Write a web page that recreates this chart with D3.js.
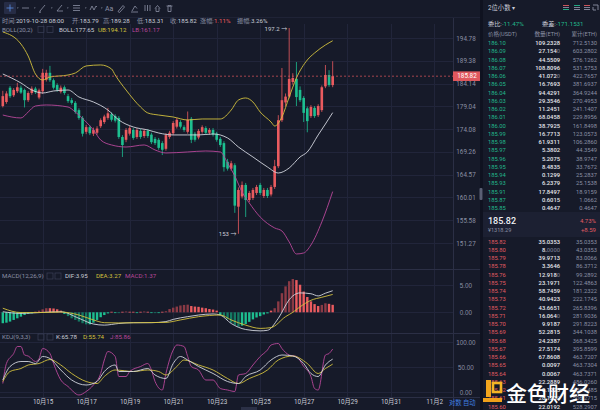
<!DOCTYPE html>
<html><head><meta charset="utf-8">
<script src="https://cdn.jsdelivr.net/npm/d3@7"></script>
<style>
html,body{margin:0;padding:0;background:#161a29;}
svg{display:block;font-family:Roboto,"Noto Sans CJK SC",sans-serif;}
</style></head><body>
<svg id="c" width="600" height="410"></svg>
<script>
// ---------- DATA ----------
const candleOpen = [179.1,180.0,183.2,181.5,182.4,183.2,182.7,180.4,182.0,183.0,
181.0,182.4,185.0,186.6,184.9,183.8,182.3,183.3,181.3,180.4,
179.8,178.2,176.5,173.5,174.5,173.1,173.3,174.7,175.6,176.5,
177.3,176.9,176.5,172.4,171.8,173.1,173.9,172.4,173.7,172.6,
173.7,172.9,172.0,171.8,171.1,169.9,172.4,173.2,174.6,175.6,
174.5,173.5,176.3,173.1,172.3,173.5,174.3,173.3,173.9,173.1,
172.0,171.1,167.2,165.8,166.5,158.2,160.2,162.5,159.5,159.9,
160.9,162.5,160.3,161.5,160.6,162.1,166.3,176.0,179.9,181.2,
184.5,185.2,182.7,180.9,178.6,176.9,178.7,177.1,178.2,183.5,
186.1,183.79];
const candleHigh = [182.5,182.4,183.6,183.1,184.3,183.7,183.0,182.4,183.5,183.4,
183.0,187.5,187.3,188.2,185.3,184.2,183.7,183.7,181.8,180.9,
180.2,178.6,176.9,175.0,174.9,174.4,174.7,176.4,177.2,178.7,
177.7,177.3,176.9,172.8,174.3,174.8,174.3,174.3,174.1,174.1,
174.1,173.3,172.4,172.2,171.5,173.2,173.7,175.8,176.5,176.0,
174.9,177.9,176.7,173.5,174.1,174.9,174.7,174.3,174.3,173.5,
172.4,171.5,167.8,167.4,166.9,162.0,163.2,162.9,161.3,161.9,
162.5,162.9,161.9,161.9,162.5,167.6,177.1,187.7,181.9,197.2,
186.5,189.1,183.5,181.3,179.0,179.3,179.1,179.5,183.7,188.4,
187.2,189.28];
const candleLow = [178.8,179.6,180.9,181.1,182.0,181.8,178.8,180.0,181.6,181.8,
180.6,181.8,184.6,184.5,182.8,182.3,181.9,181.6,179.8,179.4,
177.4,176.1,172.5,173.0,172.8,172.6,172.9,174.3,175.2,176.1,
175.7,175.5,172.0,168.2,171.3,172.7,171.8,172.0,172.0,172.2,
172.2,170.9,170.7,169.7,168.6,169.5,172.0,172.8,174.2,174.2,
173.5,173.1,171.1,171.4,171.9,173.1,172.9,172.9,172.5,171.4,
170.3,165.2,165.4,165.4,157.0,153.0,159.8,156.2,159.1,159.5,
160.5,160.5,159.9,159.9,160.2,161.7,165.9,175.6,179.0,180.8,
183.9,179.1,180.0,175.6,173.4,176.5,176.5,176.7,177.8,183.1,
183.4,183.31];
const candleClose = [181.3,181.9,181.3,182.7,183.3,182.1,180.4,182.0,183.0,182.2,
182.6,186.6,186.6,184.9,183.2,182.7,183.2,182.0,180.2,179.8,
177.8,176.5,173.1,174.5,173.2,173.9,174.2,176.0,176.8,177.5,
176.1,175.9,172.4,170.7,173.9,174.3,172.2,173.9,172.4,173.7,
172.6,171.3,171.1,170.1,169.7,172.8,173.3,175.4,176.1,174.6,
173.9,176.1,171.8,171.8,173.7,174.5,173.3,173.9,172.9,171.8,
170.7,166.1,165.8,166.9,158.4,161.5,162.5,159.5,160.9,161.5,
162.1,160.9,161.5,160.3,162.1,166.3,176.0,180.4,181.2,185.2,
185.4,181.1,180.4,177.6,175.8,178.9,176.9,179.1,183.3,186.1,
183.8,185.82];

const dateIdx = [11,23,35,47,59,71,83,95,107,119];
const dateLabels = ["10月15","10月17","10月19","10月21","10月23","10月25","10月27","10月29","10月31","11月2"];
const priceTicks = [194.78,189.38,184.14,179.04,174.08,169.26,164.57,160.01,155.58,151.27];
const macdTicks = [5,0];
const kdjTicks = [100,50,0];

// BOLL(20,2) lines: [candle index, price]
const bollUpper = [[0,196.23],[5,193.34],[7,190.50],[9,186.32],[11,184.95],[13,185.63],[18,186.09],[20,186.55],[23,188.18],[27,188.41],[30,187.48],[31,186.09],[34,182.68],[38,178.89],[40,177.58],[43,177.13],[47,176.70],[51,176.05],[55,176.27],[60,176.27],[63,178.22],[65,180.44],[67,180.89],[69,180.00],[71,177.79],[74,175.61],[75,174.75],[77,176.70],[79,181.11],[81,185.41],[84,189.57],[86,191.21],[89,193.11],[91,194.12]];
const bollMid = [[0,186.32],[5,184.27],[8,182.68],[11,182.01],[14,182.46],[18,182.68],[21,181.11],[25,180.00],[29,178.22],[32,176.05],[36,174.54],[40,173.90],[43,173.25],[47,172.83],[51,172.83],[54,172.83],[58,173.04],[62,172.19],[65,170.28],[69,168.20],[73,166.14],[76,164.91],[79,165.93],[82,168.20],[84,169.24],[87,172.83],[89,175.18],[91,177.65]];
const bollLower = [[0,177.13],[5,176.49],[7,177.79],[9,179.11],[12,179.34],[18,178.89],[20,177.79],[23,175.61],[25,173.90],[27,171.76],[30,170.71],[34,170.28],[39,170.71],[42,169.66],[45,169.03],[51,169.24],[56,169.45],[60,169.24],[62,166.96],[64,164.30],[66,161.09],[68,158.92],[71,156.20],[75,154.10],[77,153.53],[79,151.46],[81,149.24],[83,149.42],[85,150.90],[88,155.24],[91,161.17]];

// MACD(12,26,9)
const macdHist = [-2.0,-1.9,-1.7,-1.4,-1.1,-0.8,-0.5,-0.3,-0.2,0.1,
0.3,0.55,0.75,0.75,0.7,0.55,0.3,-0.3,-0.7,-1.1,
-1.4,-1.7,-2.0,-2.2,-2.2,-1.9,-1.4,-0.9,-0.5,-0.2,
0.1,-0.1,-0.15,0.1,0.15,0.1,0.1,-0.1,0.1,0.15,
0.1,-0.1,-0.15,-0.1,0.1,0.2,0.6,0.85,1.05,1.25,
1.35,1.4,1.15,1.05,1.0,0.85,0.75,0.6,0.5,0.3,
-0.5,-0.8,-1.3,-1.9,-2.35,-2.65,-2.45,-2.15,-1.75,-1.3,
-0.95,-0.7,-0.4,-0.2,0.3,0.75,2.0,3.5,4.75,5.7,
6.1,5.9,5.05,3.8,2.8,2.0,1.5,1.15,1.35,1.65,
1.55,1.37];
const macdDif = [[0,0.1],[5,-0.2],[10,-0.05],[16,0.1],[21,-1.1],[25,-2.15],[28,-2.35],[32,-2.05],[36,-1.9],[41,-1.9],[45,-1.7],[47,-1.3],[51,-0.8],[54,-0.5],[58,-0.3],[60,-0.5],[63,-2.05],[67,-3.15],[71,-3.4],[73,-3.3],[76,-1.1],[79,2.3],[80,3.0],[82,3.55],[85,3.4],[87,3.0],[89,3.5],[91,3.95]];
const macdDea = [[0,0.75],[5,-0.05],[10,-0.05],[16,0.05],[21,-0.5],[25,-1.4],[28,-1.9],[32,-1.95],[38,-1.9],[45,-1.85],[49,-1.4],[54,-0.8],[60,-0.5],[63,-1.4],[67,-2.35],[71,-2.95],[74,-2.8],[78,-0.8],[80,0.0],[82,1.0],[85,2.2],[88,2.75],[91,3.27]];

// KDJ(9,3,3)
const kdjK = [[0,24],[2,51],[5,61],[7,61],[9,57],[11,71],[13,67],[16,44],[19,24],[23,14],[26,21],[28,41],[31,54],[32,41],[36,41],[40,47],[42,34],[45,27],[47,57],[49,71],[51,64],[54,51],[58,37],[62,21],[65,17],[67,31],[71,44],[74,64],[77,74],[80,72],[83,57],[85,37],[87,31],[89,54],[91,65.78]];
const kdjD = [[0,21],[2,41],[5,47],[7,54],[10,57],[13,65],[16,54],[19,37],[23,21],[26,17],[28,31],[31,44],[36,41],[40,44],[43,41],[45,34],[48,51],[50,64],[54,54],[58,44],[62,27],[65,17],[68,27],[73,44],[76,64],[80,72],[84,57],[87,37],[89,47],[91,55.74]];
const kdjJ = [[0,17],[1,57],[3,77],[4,91],[5,91],[6,74],[7,72],[9,61],[10,67],[11,87],[13,77],[14,57],[16,24],[18,11],[21,-6],[23,1],[25,14],[27,37],[28,64],[29,81],[31,71],[32,31],[34,31],[35,41],[38,51],[40,57],[41,44],[42,21],[44,4],[45,37],[47,84],[48,94],[50,91],[51,71],[52,51],[54,44],[56,24],[58,24],[60,7],[62,4],[64,1],[65,34],[67,37],[69,54],[71,71],[73,84],[74,94],[76,97],[77,87],[79,74],[81,71],[83,51],[85,31],[86,7],[87,4],[89,74],[90,77],[91,85.86]];

const infoLabels = ["时间:","开:","高:","低:","收:","涨幅:","振幅:"];
const infoValues = ["2019-10-28 08:00","183.79","189.28","183.31","185.82","1.11%","3.26%"];
const lastPrice = 185.82;

// order book
const askPrice = [186.10,186.09,186.08,186.07,186.06,186.05,186.04,186.03,186.02,186.01,186.00,185.99,185.98,185.97,185.96,185.95,185.94,185.93,185.91,185.87,185.85];
const askQty = [109.2328,27.1540,44.5509,108.8096,41.0720,16.7693,94.4291,29.3546,11.2451,68.0458,38.7925,16.7713,61.9311,5.3802,5.2075,8.4835,0.1299,6.2379,17.8497,0.6015,0.4647];
const askCum = [712.5130,603.2802,576.1262,531.5753,422.7657,381.6937,364.9244,270.4953,241.1407,229.8956,161.8498,123.0573,106.2860,44.3549,38.9747,33.7672,25.2837,25.1538,18.9159,1.0662,0.4647];
const bidPrice = [185.82,185.80,185.79,185.78,185.76,185.75,185.74,185.73,185.72,185.71,185.70,185.69,185.68,185.67,185.66,185.65,185.64,185.63,185.62,185.61,185.60];
const bidQty = [35.0353,8.0000,39.9713,3.3646,12.9180,23.1971,58.7459,40.9423,43.6651,16.0640,9.9187,52.2815,24.2387,27.5174,67.8608,0.0097,0.0067,22.2889,0.1225,20.1230,22.0192];
const bidCum = [35.0353,43.0353,83.0066,86.3712,99.2892,122.4863,181.2322,222.1745,265.8396,281.9036,291.8223,344.1038,368.3425,395.8599,463.7207,463.7304,463.7371,486.0260,486.1485,506.2715,528.2907];

// ---------- DRAW ----------
const C = {bg:"#161a29", grid:"#21253a", axis:"#2b2f45", txt:"#8b90a4", light:"#c9ccd7",
  red:"#ea5b5f", green:"#1dbf90", yellow:"#d3c13d", pink:"#b8479a", white:"#d3d6df",
  redDim:"#8a3a45", greenDim:"#157a63", obGreen:"#22b98b", obRed:"#e05c62"};
const svg = d3.select("#c");
svg.append("rect").attr("width",600).attr("height",410).attr("fill",C.bg);

const n = candleClose.length;
const x = d3.scaleLinear().domain([0, 91]).range([2.8, 2.8 + 3.625*91]);
const yP = d3.scaleLog().domain([151.27, 194.78]).range([243, 38]);
const yM = d3.scaleLinear().domain([0, 5]).range([312.3, 285]);
const yK = d3.scaleLinear().domain([0, 100]).range([392, 342]);

const defs = svg.append("defs");
function clip(id, y0, y1){ defs.append("clipPath").attr("id",id).append("rect").attr("x",0).attr("y",y0).attr("width",453).attr("height",y1-y0); }
clip("cm",23,269); clip("cmacd",270,333); clip("ckdj",333,397);

function T(g, xx, yy, s, fill, size, anchor, extra){
  const t = g.append("text").attr("x",xx).attr("y",yy).text(s).attr("fill",fill)
    .attr("font-size",size).attr("text-anchor",anchor||"start");
  if(extra) for(const k in extra) t.attr(k, extra[k]);
  return t;
}

// grid
const grid = svg.append("g").attr("shape-rendering","crispEdges");
dateIdx.forEach(d => grid.append("line").attr("x1",Math.round(x(d))+0.5).attr("x2",Math.round(x(d))+0.5)
  .attr("y1",24).attr("y2",397).attr("stroke",C.grid));
priceTicks.forEach(p => grid.append("line").attr("x1",0).attr("x2",453).attr("y1",Math.round(yP(p))+0.5).attr("y2",Math.round(yP(p))+0.5).attr("stroke",C.grid));
macdTicks.forEach(v => grid.append("line").attr("x1",0).attr("x2",453).attr("y1",Math.round(yM(v))+0.5).attr("y2",Math.round(yM(v))+0.5).attr("stroke",C.grid));
kdjTicks.forEach(v => grid.append("line").attr("x1",0).attr("x2",453).attr("y1",Math.round(yK(v))+0.5).attr("y2",Math.round(yK(v))+0.5).attr("stroke",C.grid));
[269.5,333.5,397.5].forEach(yy => grid.append("line").attr("x1",0).attr("x2",481).attr("y1",yy).attr("y2",yy).attr("stroke",C.axis));
grid.append("line").attr("x1",453.5).attr("x2",453.5).attr("y1",18).attr("y2",410).attr("stroke",C.axis);
grid.append("line").attr("x1",0).attr("x2",481).attr("y1",17.5).attr("y2",17.5).attr("stroke","#1f2336");

// main panel
const gMain = svg.append("g").attr("clip-path","url(#cm)");
const idx = d3.range(n);
gMain.selectAll("line.wick").data(idx).join("line").attr("class","wick")
  .attr("x1",i=>x(i)).attr("x2",i=>x(i)).attr("y1",i=>yP(candleHigh[i])).attr("y2",i=>yP(candleLow[i]))
  .attr("stroke",i=>candleClose[i]>=candleOpen[i]?C.red:C.green).attr("stroke-width",0.8);
gMain.selectAll("rect.body").data(idx).join("rect").attr("class","body")
  .attr("x",i=>x(i)-1.3).attr("width",2.6)
  .attr("y",i=>yP(Math.max(candleOpen[i],candleClose[i])))
  .attr("height",i=>Math.max(0.8, Math.abs(yP(candleOpen[i])-yP(candleClose[i]))))
  .attr("fill",i=>candleClose[i]>=candleOpen[i]?C.red:C.green);

const lineP = d3.line().x(d=>x(d[0])).y(d=>yP(d[1])).curve(d3.curveMonotoneX);
[[bollUpper,C.yellow],[bollMid,C.white],[bollLower,C.pink]].forEach(([d,c]) =>
  gMain.append("path").attr("d",lineP(d)).attr("fill","none").attr("stroke",c).attr("stroke-width",0.9));

// last price dashed line and marker
svg.append("line").attr("x1",0).attr("x2",453).attr("y1",yP(lastPrice)).attr("y2",yP(lastPrice))
  .attr("stroke",C.red).attr("stroke-width",0.8).attr("stroke-dasharray","2,2").attr("opacity",0.85);

// price axis
const axP = svg.append("g").attr("transform","translate(453,0)")
  .call(d3.axisRight(yP).tickValues(priceTicks).tickSize(0).tickFormat(d3.format(".2f")));
axP.select(".domain").remove();
axP.selectAll("text").attr("x",13).attr("text-anchor","middle").attr("fill",C.txt).attr("font-size",6.3).attr("font-family","Roboto");
svg.append("rect").attr("x",453).attr("y",yP(lastPrice)-4.8).attr("width",28).attr("height",9.6).attr("fill","#e0585e");
T(svg,467,yP(lastPrice)+2.2,d3.format(".2f")(lastPrice),"#fff",6.3,"middle");

// high / low marks
const iHi = d3.maxIndex(candleHigh), iLo = d3.minIndex(candleLow);
T(svg,x(iHi)-2,yP(candleHigh[iHi])+3.5,candleHigh[iHi]+" →",C.light,6,"end");
T(svg,x(iLo)-2,yP(candleLow[iLo])+2,candleLow[iLo]+" →",C.light,6,"end");

// MACD panel
const gMacd = svg.append("g").attr("clip-path","url(#cmacd)");
gMacd.selectAll("rect").data(idx).join("rect")
  .attr("x",i=>x(i)-1.2).attr("width",2.4)
  .attr("y",i=>yM(Math.max(0,macdHist[i])))
  .attr("height",i=>Math.max(0.8,Math.abs(yM(macdHist[i])-yM(0))))
  .attr("fill",i=>{const v=macdHist[i], p=i>0?macdHist[i-1]:0; const grow=Math.abs(v)>Math.abs(p)&&Math.sign(v)===Math.sign(p);
    return v>=0 ? (grow?C.redDim:C.red) : (grow?C.greenDim:C.green);});
const lineM = d3.line().x(d=>x(d[0])).y(d=>yM(d[1])).curve(d3.curveMonotoneX);
gMacd.append("path").attr("d",lineM(macdDif)).attr("fill","none").attr("stroke",C.white).attr("stroke-width",0.9);
gMacd.append("path").attr("d",lineM(macdDea)).attr("fill","none").attr("stroke",C.yellow).attr("stroke-width",0.9);
const axM = svg.append("g").attr("transform","translate(453,0)")
  .call(d3.axisRight(yM).tickValues(macdTicks).tickSize(0).tickFormat(d3.format(".2f")));
axM.select(".domain").remove();
axM.selectAll("text").attr("x",13).attr("text-anchor","middle").attr("fill",C.txt).attr("font-size",6.3);

// KDJ panel
const gK = svg.append("g").attr("clip-path","url(#ckdj)");
const lineK = d3.line().x(d=>x(d[0])).y(d=>yK(d[1])).curve(d3.curveMonotoneX);
[[kdjJ,C.pink],[kdjD,C.yellow],[kdjK,C.white]].forEach(([d,c]) =>
  gK.append("path").attr("d",lineK(d)).attr("fill","none").attr("stroke",c).attr("stroke-width",0.9));
const axK = svg.append("g").attr("transform","translate(453,0)")
  .call(d3.axisRight(yK).tickValues(kdjTicks).tickSize(0).tickFormat(d3.format(".2f")));
axK.select(".domain").remove();
axK.selectAll("text").attr("x",13).attr("text-anchor","middle").attr("fill",C.txt).attr("font-size",6.3);

// x axis
const axX = svg.append("g").attr("transform","translate(0,397)")
  .call(d3.axisBottom(x).tickValues(dateIdx).tickSize(0).tickFormat((d,i)=>dateLabels[i]));
axX.select(".domain").remove();
axX.selectAll("text").attr("y",3).attr("fill",C.light).attr("font-size",6.3).attr("font-family","Roboto,'Noto Sans CJK SC'");
T(svg,449,405,"对数","#3f7fe0",6.3,"start");
T(svg,463,405,"自动","#3f7fe0",6.3,"start");
svg.append("rect").attr("x",241).attr("y",407).attr("width",16).attr("height",3).attr("fill","#2b3046");

// ---------- toolbar ----------
const tb = svg.append("g").attr("stroke","#8b90a4").attr("fill","none").attr("stroke-width",0.8);
tb.append("rect").attr("x",4).attr("y",2).attr("width",12).attr("height",12).attr("fill","#262c45").attr("stroke","none").attr("rx",1);
tb.append("path").attr("d","M10,4.5V11.5M6.5,8H13.5").attr("stroke","#5b8fe6");
const tri = [17,34,51,67,85,101];
tri.forEach(tx => tb.append("path").attr("d",`M${tx},7.5l1.6,0l-0.8,1.2z`).attr("fill","#8b90a4").attr("stroke","none"));
tb.append("path").attr("d","M22,8H29");
tb.append("path").attr("d","M40,11L45,5M41,12l-1.5,0.5l0.5,-1.5");
tb.append("path").attr("d","M57,11L62,5M57,11H63");
tb.append("path").attr("d","M73,5.5H80M73,8H80M73,10.5H80");
tb.append("path").attr("d","M90,10L92,6L94,10L96,6L97,7");
T(svg,105,10.5,"Aa","#8b90a4",7,"start");
tb.append("path").attr("d","M118,11.5L123,5.5L124.5,7L119.5,12.5Z");
tb.append("path").attr("d","M132,11L135,6L137,8.5M131,12H138");
tb.append("path").attr("d","M145,5V11M147.5,5V11M150,5V11");
tb.append("path").attr("d","M155,8.5L157.5,5.5L160,8.5M156,8V11.5H159V8");
tb.append("path").attr("d","M166.5,6H172.5M168,6V11.5H171V6M168.7,5V6H170.3V5");

// info rows
const infoX = [2,72,103,137,170,200,237];
infoLabels.forEach((l,i) => {
  const t = T(svg,infoX[i],23,"",C.txt,6.2,"start");
  t.append("tspan").text(l);
  t.append("tspan").text(infoValues[i]).attr("fill", i===5 ? C.red : C.light);
});
T(svg,2,31.5,"BOLL(20,2)",C.txt,6.2,"start");
[38,47].forEach(bx => svg.append("rect").attr("x",bx).attr("y",26.5).attr("width",6).attr("height",6).attr("fill","none").attr("stroke","#3b4058").attr("stroke-width",0.7));
T(svg,59,31.5,"BOLL:"+bollMid[bollMid.length-1][1].toFixed(2),C.light,6.2,"start");
T(svg,98,31.5,"UB:"+bollUpper[bollUpper.length-1][1].toFixed(2),C.yellow,6.2,"start");
T(svg,132,31.5,"LB:"+bollLower[bollLower.length-1][1].toFixed(2),C.pink,6.2,"start");

T(svg,2,278,"MACD(12,26,9)",C.txt,6.2,"start");
[47,55].forEach(bx => svg.append("rect").attr("x",bx).attr("y",273).attr("width",6).attr("height",6).attr("fill","none").attr("stroke","#3b4058").attr("stroke-width",0.7));
T(svg,65,278,"DIF:"+macdDif[macdDif.length-1][1].toFixed(2),C.light,6.2,"start");
T(svg,96,278,"DEA:"+macdDea[macdDea.length-1][1].toFixed(2),C.yellow,6.2,"start");
T(svg,125,278,"MACD:"+macdHist[n-1].toFixed(2),C.pink,6.2,"start");

T(svg,2,339,"KDJ(9,3,3)",C.txt,6.2,"start");
[38,47].forEach(bx => svg.append("rect").attr("x",bx).attr("y",334).attr("width",6).attr("height",6).attr("fill","none").attr("stroke","#3b4058").attr("stroke-width",0.7));
T(svg,56,339,"K:"+kdjK[kdjK.length-1][1].toFixed(2),C.light,6.2,"start");
T(svg,83,339,"D:"+kdjD[kdjD.length-1][1].toFixed(2),C.yellow,6.2,"start");
T(svg,110,339,"J:"+kdjJ[kdjJ.length-1][1].toFixed(2),C.pink,6.2,"start");

// ---------- order book ----------
svg.append("rect").attr("x",480).attr("y",0).attr("width",3).attr("height",410).attr("fill","#0f1220");
svg.append("rect").attr("x",479.5).attr("y",188).attr("width",3).attr("height",12).attr("fill","#5a5f74").attr("rx",1);
const ob = svg.append("g");
T(ob,488,10,"2位小数 ▾",C.light,6.3,"start");
const ic = ob.append("g").attr("stroke-width",0.9);
[[563,["#e05c62","#8b90a4","#22b98b"]],[574,["#22b98b","#8b90a4","#8b90a4"]],[584,["#e05c62","#8b90a4","#8b90a4"]]].forEach(([ix,cols]) =>
  cols.forEach((c,k)=> ic.append("line").attr("x1",ix).attr("x2",ix+6).attr("y1",5.5+k*2).attr("y2",5.5+k*2).attr("stroke",c)));
ic.append("path").attr("d","M593,5H598V10M596,10H593V7").attr("fill","none").attr("stroke","#8b90a4");
{ const t = T(ob,488,25.5,"",C.light,6.2,"start"); t.append("tspan").text("委比:"); t.append("tspan").text("-11.47%").attr("fill",C.obGreen);
  const t2 = T(ob,542,25.5,"",C.light,6.2,"start"); t2.append("tspan").text("委差:"); t2.append("tspan").text("-171.1531").attr("fill",C.obGreen); }
T(ob,488,35.5,"价格(USDT)",C.txt,5.6,"start");
T(ob,560,35.5,"数量(ETH)",C.txt,5.6,"end");
T(ob,597,35.5,"累计(ETH)",C.txt,5.6,"end");

const rowA = d3.scaleLinear().domain([0,1]).range([43,51.25]);
const rowB = d3.scaleLinear().domain([0,1]).range([241.7,249.95]);
function qtyText(g, xx, yy, v){
  const s = v.toFixed(4); const m = s.match(/^(.*?)(0*)$/);
  const t = T(g,xx,yy,"","#e6e8ee",5.8,"end",{"font-weight":500});
  t.append("tspan").text(m[1]); if(m[2]) t.append("tspan").text(m[2]).attr("fill","#6d7287");
}
function bookRows(prices, qty, cum, row, col){
  prices.forEach((p,k) => {
    const yy = row(k)+2;
    T(ob,488,yy,p.toFixed(2),col,5.8,"start");
    qtyText(ob,560,yy,qty[k]);
    T(ob,597,yy,cum[k].toFixed(4),C.txt,5.8,"end");
  });
}
bookRows(askPrice, askQty, askCum, rowA, C.obGreen);
ob.append("rect").attr("x",483).attr("y",212).attr("width",117).attr("height",25).attr("fill","#1c2032");
T(ob,488,224,lastPrice.toFixed(2),"#f0f1f5",9,"start",{"font-weight":500});
T(ob,488,232,"¥1318.29",C.txt,5.6,"start");
T(ob,596,223,"4.73%",C.obRed,6,"end");
T(ob,596,232,"+8.59",C.obRed,6,"end");
bookRows(bidPrice, bidQty, bidCum, rowB, C.obRed);

// watermark logo
const lg = svg.append("g");
lg.append("rect").attr("x",486).attr("y",380).attr("width",5).attr("height",17).attr("fill","#f2a51d");
lg.append("rect").attr("x",493).attr("y",383).attr("width",8).attr("height",9).attr("fill","none").attr("stroke","#f5b625").attr("stroke-width",2.6);
lg.append("rect").attr("x",483).attr("y",398).attr("width",19).attr("height",4).attr("fill","#f0a01a");
T(lg,506,401,"金色财经","#ffffff",21,"start",{"font-family":"'Noto Sans CJK SC'","font-weight":500});
</script>
</body></html>
